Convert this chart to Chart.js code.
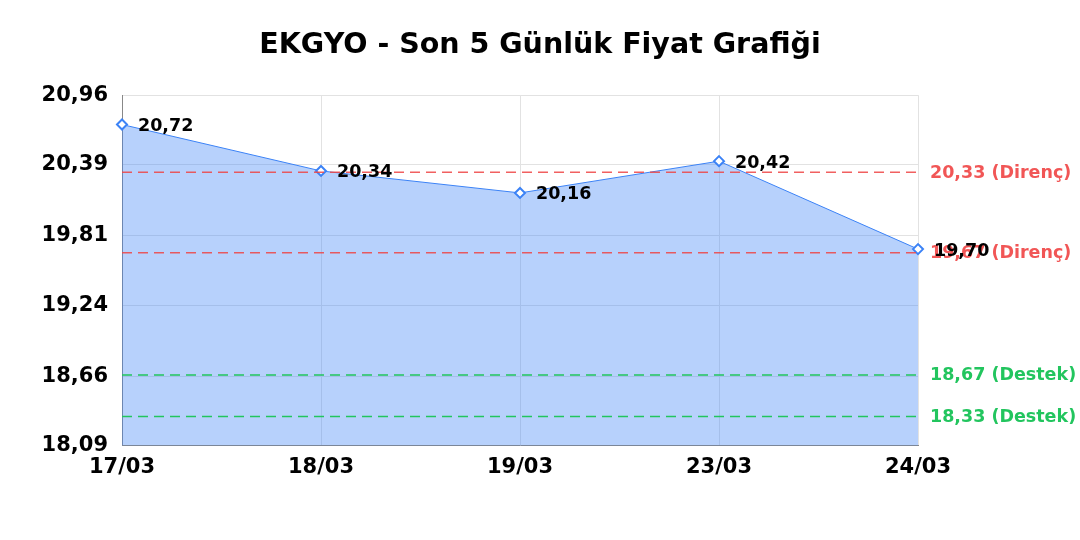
<!DOCTYPE html>
<html>
<head>
<meta charset="utf-8">
<script src="https://cdn.jsdelivr.net/npm/chart.js@4"></script>
<style>
  html, body { margin: 0; padding: 0; background: #fff; }
  #wrap { width: 1080px; height: 540px; }
</style>
</head>
<body>
<div id="wrap"><canvas id="priceChart"></canvas></div>
<script>
// Data
var dates = ['17/03', '18/03', '19/03', '23/03', '24/03'];
var prices = [20.72, 20.34, 20.16, 20.42, 19.70];
var resistance = [20.33, 19.67];
var support = [18.67, 18.33];
var yTicks = [18.09, 18.66, 19.24, 19.81, 20.39, 20.96];

function trNum(v) {
    return v.toFixed(2).replace('.', ',');
}

// one flat dashed dataset per support / resistance level
function levelDataset(value, color) {
    return {
        data: dates.map(function() { return value; }),
        borderColor: color,
        borderWidth: 1.5,
        borderDash: [10, 6],
        pointRadius: 0,
        fill: false,
        order: 0
    };
}

var levelLines = [];
resistance.forEach(function(v) { levelLines.push(levelDataset(v, 'rgba(239, 68, 68, 0.85)')); });
support.forEach(function(v) { levelLines.push(levelDataset(v, 'rgba(34, 197, 94, 1)')); });

// labels: levels on the right, price values next to points
var labelPlugin = {
    id: 'labels',
    afterDatasetsDraw: function(chart) {
        var ctx = chart.ctx;
        var y = chart.scales.y;
        var area = chart.chartArea;
        ctx.save();
        ctx.font = 'bold 17.5px "DejaVu Sans"';
        ctx.textBaseline = 'middle';
        ctx.textAlign = 'left';
        resistance.forEach(function(v) {
            ctx.fillStyle = 'rgba(239, 68, 68, 0.9)';
            ctx.fillText(trNum(v) + ' (Direnç)', area.right + 12, y.getPixelForValue(v) + 1);
        });
        support.forEach(function(v) {
            ctx.fillStyle = 'rgb(34, 197, 94)';
            ctx.fillText(trNum(v) + ' (Destek)', area.right + 12, y.getPixelForValue(v) + 1);
        });
        var meta = chart.getDatasetMeta(0);
        ctx.fillStyle = '#000';
        meta.data.forEach(function(pt, i) {
            ctx.fillText(trNum(prices[i]), pt.x + 16, pt.y + 2);
        });
        ctx.restore();
    }
};

var ctx = document.getElementById('priceChart').getContext('2d');
var priceChart = new Chart(ctx, {
    type: 'line',
    data: {
        labels: dates,
        datasets: [{
            data: prices,
            borderColor: '#3b82f6',
            borderWidth: 1,
            backgroundColor: 'rgba(59, 130, 246, 0.37)',
            fill: 'origin',
            tension: 0,
            pointStyle: 'rectRot',
            pointRadius: 5,
            pointBorderWidth: 2,
            pointBackgroundColor: '#fff',
            pointBorderColor: '#3b82f6',
            order: 1
        }].concat(levelLines)
    },
    options: {
        responsive: true,
        maintainAspectRatio: false,
        animation: false,
        layout: { padding: { left: 0, right: 0, top: 0, bottom: 51 } },
        plugins: {
            legend: { display: false },
            tooltip: { enabled: false },
            title: {
                display: true,
                text: 'EKGYO - Son 5 Günlük Fiyat Grafiği',
                color: '#000',
                font: { family: 'DejaVu Sans', size: 28.5, weight: 'bold' },
                padding: { top: 28, bottom: 33 }
            }
        },
        scales: {
            x: {
                offset: false,
                grid: { color: '#e2e2e2', drawTicks: false },
                border: { color: '#888' },
                ticks: {
                    color: '#000',
                    font: { family: 'DejaVu Sans', size: 21, weight: 'bold' },
                    maxRotation: 0,
                    padding: 9
                }
            },
            y: {
                min: yTicks[0],
                max: yTicks[yTicks.length - 1],
                afterBuildTicks: function(axis) {
                    axis.ticks = yTicks.map(function(v) { return { value: v }; });
                },
                afterFit: function(axis) { axis.width = 122; },
                grid: { color: '#e2e2e2', drawTicks: false },
                border: { color: '#888' },
                ticks: {
                    color: '#000',
                    font: { family: 'DejaVu Sans', size: 21, weight: 'bold' },
                    padding: 14,
                    callback: function(v) { return trNum(v); }
                }
            },
            // empty right-hand axis that only reserves room for the level labels
            yRight: {
                position: 'right',
                min: yTicks[0],
                max: yTicks[yTicks.length - 1],
                afterFit: function(axis) { axis.width = 162; },
                grid: { display: false },
                border: { display: false },
                ticks: { display: false }
            }
        }
    },
    plugins: [labelPlugin]
});
</script>
</body>
</html>
